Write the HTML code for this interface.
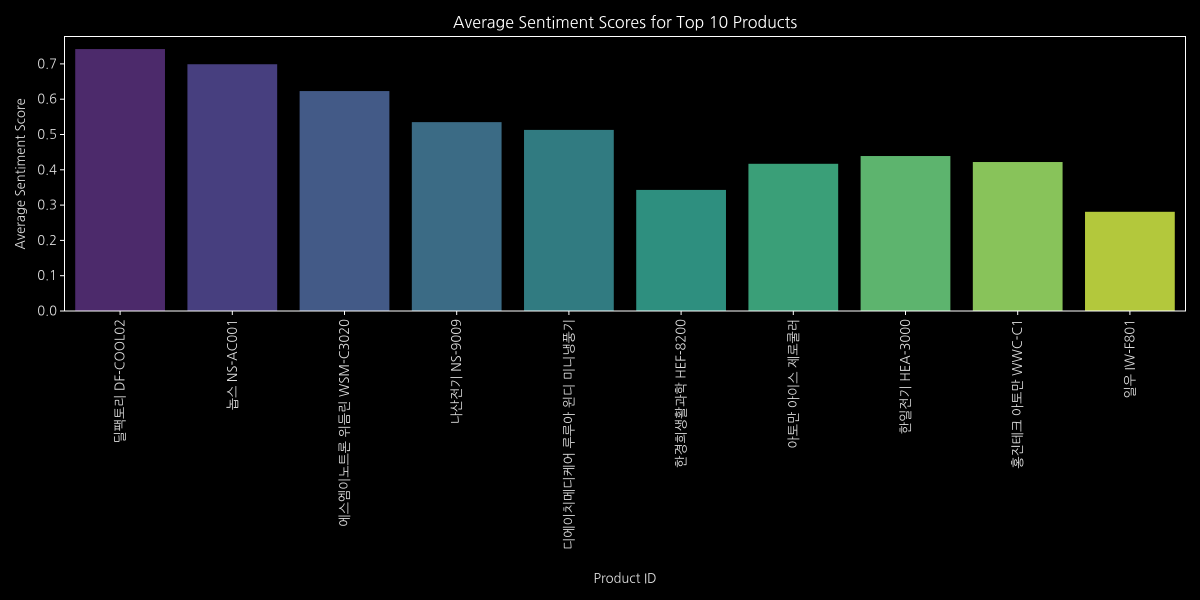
<!DOCTYPE html>
<html><head><meta charset="utf-8"><style>
html,body{margin:0;padding:0;background:#000;}
svg{display:block;font-family:"NanumGothic","Liberation Sans","Noto Sans CJK KR",sans-serif;}
</style></head><body>
<svg id="chart" width="1200" height="600" viewBox="0 0 1200 600" xmlns="http://www.w3.org/2000/svg">
<rect width="1200" height="600" fill="#000"/>
<text x="625" y="28" fill="#fff" font-size="16" text-anchor="middle">Average Sentiment Scores for Top 10 Products</text>
<text x="625" y="583" fill="#ddd" font-size="13" text-anchor="middle">Product ID</text>
<text transform="translate(25,174) rotate(-90)" fill="#ddd" font-size="13" text-anchor="middle">Average Sentiment Score</text>
<g id="bars"></g><g id="yticks"></g><g id="xticks"></g>
<rect x="64.5" y="36.5" width="1121" height="274.5" fill="none" stroke="#fff" stroke-width="1"/>
</svg>
<script>
const categories=["딜팩토리 DF-COOL02","놉스 NS-AC001","에스엠이노트론 위듬린 WSM-C3020","나산전기 NS-9009","디에이치메디케어 루루아 윈디 미니냉풍기","한경희생활과학 HEF-8200","아토만 아이스 제로쿨러","한일전기 HEA-3000","홍진테크 아토만 WWC-C1","일우 IW-F801"];
const scores=[0.742,0.699,0.623,0.535,0.513,0.343,0.417,0.439,0.422,0.281];
const yTicks=[0,0.1,0.2,0.3,0.4,0.5,0.6,0.7];
const barColors=["#4c2a6b","#473f7f","#435a87","#3b6b85","#317b81","#2e8f7f","#3a9f78","#5db46e","#88c35a","#b3c83c"];
const NS="http://www.w3.org/2000/svg";
const L=64,R=1186,T=36,B=311,yMax=0.779;
const y=v=>B-(v/yMax)*(B-T);
const band=(R-L)/categories.length;
const x=i=>L+band*(i+0.5);
const bw=band*0.8;
const gb=document.getElementById('bars'),gy=document.getElementById('yticks'),gx=document.getElementById('xticks');
scores.forEach((v,i)=>{
  const r=document.createElementNS(NS,'rect');
  r.setAttribute('x',x(i)-bw/2);r.setAttribute('y',y(v));
  r.setAttribute('width',bw);r.setAttribute('height',B-y(v));
  r.setAttribute('fill',barColors[i%barColors.length]);
  
  
  gb.appendChild(r);
});
yTicks.forEach(t=>{
  const l=document.createElementNS(NS,'line');
  l.setAttribute('x1',L-4);l.setAttribute('x2',L);l.setAttribute('y1',y(t));l.setAttribute('y2',y(t));
  l.setAttribute('stroke','#fff');
  
  
  gy.appendChild(l);
  const s=document.createElementNS(NS,'text');
  s.setAttribute('x',L-7);s.setAttribute('y',y(t)+4.5);s.setAttribute('fill','#ddd');
  s.setAttribute('font-size','13');s.setAttribute('text-anchor','end');
  s.textContent=t.toFixed(1);
  
  
  gy.appendChild(s);
});
categories.forEach((c,i)=>{
  const l=document.createElementNS(NS,'line');
  l.setAttribute('x1',x(i));l.setAttribute('x2',x(i));l.setAttribute('y1',B);l.setAttribute('y2',B+4);
  l.setAttribute('stroke','#fff');
  
  
  gx.appendChild(l);
  const s=document.createElementNS(NS,'text');
  s.setAttribute('transform','translate('+(x(i)+4.5)+','+(B+8)+') rotate(-90)');
  s.setAttribute('fill','#ddd');s.setAttribute('font-size','13');s.setAttribute('text-anchor','end');
  s.textContent=c;
  
  
  gx.appendChild(s);
});
</script>
</body></html>
